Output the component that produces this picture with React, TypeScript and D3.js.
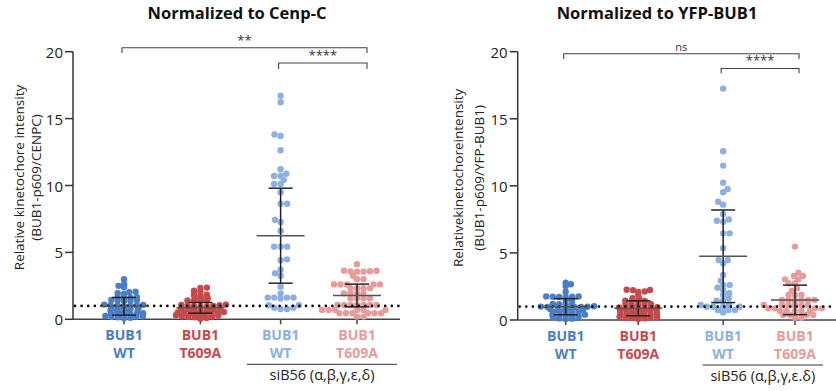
import React from 'react'
import * as d3 from 'd3'

// group labels
const groupLine1 = ['BUB1', 'BUB1', 'BUB1', 'BUB1']
const groupLine2 = ['WT', 'T609A', 'WT', 'T609A']
const groupColors = ['#4a7ec6', '#c8494b', '#8db0e2', '#e79b9b']
const yTicks = [0, 5, 10, 15, 20]

// Normalized to Cenp-C
const cenpWT = [2.99, 2.6, 2.5, 2.39, 2.06, 2.02, 1.95, 1.9, 1.66, 1.64, 1.62, 1.6, 1.45, 1.42, 1.4, 1.38, 1.36,
  1.1, 1.08, 1.05, 1.03, 1.02, 1.0, 0.98, 0.85, 0.82, 0.8, 0.78, 0.75, 0.65, 0.62, 0.6, 0.58, 0.55,
  0.45, 0.42, 0.4, 0.38, 0.36, 0.35, 0.25, 0.22, 0.2, 0.18, 0.15, 0.12, 0.08]
const cenpT609A = [2.37, 2.35, 2.14, 2.1, 1.84, 1.82, 1.8, 1.58, 1.57, 1.55, 1.4, 1.38, 1.37, 1.35,
  1.1, 1.08, 1.05, 1.02, 1.0, 0.98, 0.96, 0.95, 0.8, 0.78, 0.76, 0.75, 0.72, 0.7, 0.68,
  0.55, 0.52, 0.5, 0.48, 0.46, 0.44, 0.42, 0.4, 0.3, 0.28, 0.25, 0.22, 0.2, 0.18, 0.15, 0.1, 0.05]
const cenpSiWT = [16.71, 16.22, 13.82, 13.7, 12.63, 11.21, 10.88, 10.71, 10.71, 10.41, 10.11, 10.11, 9.49,
  8.64, 8.64, 7.44, 7.27, 6.6, 5.43, 5.43, 5.43, 4.48, 4.41, 3.71, 3.44, 3.26, 2.44, 1.94,
  1.62, 1.62, 1.55, 1.62, 1.62, 1.05, 1.05, 0.87, 0.87, 0.77, 0.77]
const cenpSiT609A = [4.11, 3.63, 3.63, 3.6, 3.58, 3.56, 3.56, 3.26, 2.99, 2.99, 2.61, 2.61, 2.61, 2.61, 2.61,
  2.32, 2.32, 2.32, 2.32, 1.94, 1.94, 1.94, 1.94, 1.57, 1.57, 1.57, 1.57,
  1.07, 1.07, 1.07, 1.07, 1.07, 1.07, 1.07, 0.7, 0.7, 0.7, 0.7, 0.7, 0.7,
  0.45, 0.45, 0.45, 0.45, 0.45, 0.45, 0.2, 0.2]
const cenpMean = [0.97, 0.86, 6.25, 1.78]
const cenpSD = [0.66, 0.4, 3.55, 0.85]

// Normalized to YFP-BUB1
const yfpWT = [2.78, 2.66, 2.54, 2.11, 1.76, 1.75, 1.74, 1.73, 1.72, 1.71, 1.49, 1.45, 1.2, 1.18, 1.17, 1.15,
  1.02, 1.0, 0.99, 0.98, 0.97, 0.96, 0.95, 0.94, 0.8, 0.78, 0.76, 0.74, 0.72, 0.62, 0.6, 0.58, 0.55, 0.52,
  0.4, 0.38, 0.36, 0.34, 0.32, 0.3, 0.18, 0.15, 0.12, 0.1, 0.08]
const yfpT609A = [2.26, 2.24, 2.22, 2.12, 2.1, 1.86, 1.63, 1.6, 1.43, 1.42, 1.41, 1.4, 1.2, 1.18, 1.15, 1.12, 1.1,
  0.95, 0.93, 0.9, 0.88, 0.86, 0.84, 0.82, 0.7, 0.68, 0.66, 0.64, 0.62, 0.6,
  0.5, 0.48, 0.46, 0.44, 0.42, 0.4, 0.38, 0.28, 0.25, 0.22, 0.2, 0.18, 0.15, 0.12, 0.08]
const yfpSiWT = [17.25, 12.58, 11.51, 10.24, 9.77, 9.52, 8.82, 8.6, 7.88, 7.5, 7.4, 7.33, 6.46, 6.46, 5.35,
  4.47, 4.47, 4.22, 3.36, 2.93, 2.61, 2.61, 2.41, 2.24, 1.99, 1.86, 1.62, 1.44, 1.44, 1.12, 1.12,
  0.99, 0.99, 0.99, 0.99, 0.75, 0.75, 0.75, 0.55]
const yfpSiT609A = [5.47, 3.53, 3.28, 3.28, 3.03, 3.03, 2.74, 2.74, 2.36, 2.16, 1.86, 1.86, 1.86,
  1.5, 1.5, 1.5, 1.48, 1.48, 1.46, 1.12, 1.12, 1.12, 1.1, 1.1, 1.1, 0.87, 0.87, 0.87, 0.87,
  0.67, 0.67, 0.67, 0.67, 0.67, 0.37, 0.37, 0.37, 0.37, 0.17, 0.17]
const yfpMean = [0.99, 0.87, 4.75, 1.5]
const yfpSD = [0.6, 0.56, 3.45, 1.1]

const FONT = '"Open Sans", "Noto Sans", sans-serif'
const R = 3.2
// vertical packing per group: dense control groups pack tighter
const packY = [2.7, 2.7, 4.6, 4.6]

// greedy beeswarm, elliptical collision so dense groups pack a bit
function swarm(values: number[], y: (v: number) => number, dx: number, dy: number) {
  const order = values.map((_, i) => i).sort((a, b) => values[a] - values[b])
  const placed: { x: number; y: number }[] = []
  const out: { x: number; y: number }[] = new Array(values.length)
  let left = 0, right = 0
  for (const i of order) {
    const py = y(values[i])
    const near = placed.filter(p => Math.abs(p.y - py) < dy)
    const cands = [0]
    near.forEach(p => {
      const t = (p.y - py) / dy
      const w = dx * Math.sqrt(Math.max(0, 1 - t * t))
      cands.push(p.x + w + 0.01, p.x - w - 0.01)
    })
    const ok = (c: number) => near.every(p => {
      const a = (c - p.x) / dx, b = (py - p.y) / dy
      return a * a + b * b >= 0.999
    })
    let best: number | null = null
    for (const c of cands) {
      if (!ok(c)) continue
      if (best === null) { best = c; continue }
      const d = Math.abs(c) - Math.abs(best)
      if (d < -0.05) best = c
      else if (Math.abs(d) <= 0.05 && ((c < 0 && left < right) || (c > 0 && right < left))) best = c
    }
    const bx = best ?? 0
    if (bx < -0.5) left++
    if (bx > 0.5) right++
    const pt = { x: bx, y: py }
    placed.push(pt)
    out[i] = pt
  }
  return out
}

interface Bracket { from: number; to: number; level: number; drop: number; label: string; size: number; shift: number }

interface PanelProps {
  title: string
  titleX: number
  axisX: number
  axisEnd: number
  yRange: [number, number]
  slots: number[]
  xRange: [number, number]
  groups: number[][]
  means: number[]
  sds: number[]
  yLabel: string[]
  yLabelX: number[]
  brackets: Bracket[]
  siLabel: string
  siLine: [number, number]
}

function Panel(p: PanelProps) {
  const y = d3.scaleLinear().domain([0, 20]).range(p.yRange)
  const x = d3.scaleLinear().domain([p.slots[0], p.slots[3]]).range(p.xRange)
  const cx = p.slots.map(s => x(s))
  const y0 = y(0)
  const midY = (y(0) + y(20)) / 2 - 8
  const siCenter = (p.siLine[0] + p.siLine[1]) / 2
  return (
    <g fontFamily={FONT}>
      <text x={p.titleX} y={19} textAnchor="middle" fontWeight="bold" fontSize={16.5} fill="#111">{p.title}</text>
      {/* y label */}
      {p.yLabel.map((t, i) => (
        <text key={t} transform={`translate(${p.yLabelX[i]},${midY}) rotate(-90)`} textAnchor="middle"
          dominantBaseline="central" fontSize={13.5} fill="#222">{t}</text>
      ))}
      {/* y axis */}
      <line x1={p.axisX} x2={p.axisX} y1={y(20)} y2={y0} stroke="#333" strokeWidth={1.5} />
      {yTicks.map(t => (
        <g key={t}>
          <line x1={p.axisX - 8} x2={p.axisX} y1={y(t)} y2={y(t)} stroke="#333" strokeWidth={1.5} />
          <text x={p.axisX - 10} y={y(t)} textAnchor="end" dominantBaseline="central" fontSize={15} fill="#222">{t}</text>
        </g>
      ))}
      {/* x axis */}
      <line x1={p.axisX} x2={p.axisEnd} y1={y0} y2={y0} stroke="#444" strokeWidth={1.5} />
      {cx.map((c, i) => (
        <g key={i}>
          <line x1={c} x2={c} y1={y0} y2={y0 + 5} stroke="#444" strokeWidth={1.5} />
          <text x={c} y={y0 + 21} textAnchor="middle" fontWeight="bold" fontSize={14} fill={groupColors[i]}>{groupLine1[i]}</text>
          <text x={c} y={y0 + 39} textAnchor="middle" fontWeight="bold" fontSize={14} fill={groupColors[i]}>{groupLine2[i]}</text>
        </g>
      ))}
      {/* dots */}
      {p.groups.map((vals, gi) => swarm(vals, y, 6.5, packY[gi]).map((pt, k) => (
        <circle key={`${gi}-${k}`} cx={cx[gi] + pt.x} cy={pt.y} r={R} fill={groupColors[gi]} />
      )))}
      {/* reference line at 1 */}
      <line x1={p.axisX + 2} x2={p.axisEnd} y1={y(1)} y2={y(1)} stroke="#000" strokeWidth={2.6}
        strokeDasharray="0 6.6" strokeLinecap="round" />
      {/* mean +/- SD */}
      {p.means.map((m, i) => (
        <g key={i} stroke="#222" strokeWidth={1.5}>
          <line x1={cx[i]} x2={cx[i]} y1={y(m - p.sds[i])} y2={y(m + p.sds[i])} />
          <line x1={cx[i] - 12} x2={cx[i] + 12} y1={y(m + p.sds[i])} y2={y(m + p.sds[i])} />
          <line x1={cx[i] - 12} x2={cx[i] + 12} y1={y(m - p.sds[i])} y2={y(m - p.sds[i])} />
          <line x1={cx[i] - 24} x2={cx[i] + 24} y1={y(m)} y2={y(m)} stroke="#555" />
        </g>
      ))}
      {/* significance */}
      {p.brackets.map((b, i) => {
        const x1 = cx[b.from] - 2
        const x2 = cx[b.to] + b.shift
        const by = y(b.level)
        const bd = y(b.level - b.drop)
        return (
          <g key={i}>
            <path d={`M${x1},${bd}V${by}H${x2}V${bd}`} fill="none" stroke="#444" strokeWidth={1.1} />
            <text x={(x1 + x2) / 2} y={by - 3} textAnchor="middle" fontSize={b.size} fill="#333">{b.label}</text>
          </g>
        )
      })}
      {/* siB56 group */}
      <line x1={p.siLine[0]} x2={p.siLine[1]} y1={y0 + 45} y2={y0 + 45} stroke="#333" strokeWidth={1} />
      <text x={siCenter} y={y0 + 61} textAnchor="middle" fontSize={14.5} fill="#222">{p.siLabel}</text>
    </g>
  )
}

export default function App() {
  return (
    <svg width={836} height={391} viewBox="0 0 836 391"
      style={{ position: 'absolute', left: 0, top: 0, background: '#fff' }}>
      <rect width={836} height={391} fill="#fff" />
      <Panel
        title="Normalized to Cenp-C" titleX={237}
        axisX={73} axisEnd={400} yRange={[319.3, 51.7]}
        slots={[0, 1, 2.05, 3.05]} xRange={[124, 357]}
        groups={[cenpWT, cenpT609A, cenpSiWT, cenpSiT609A]}
        means={cenpMean} sds={cenpSD}
        yLabel={['Relative kinetochore intensity', '(BUB1-p609/CENPC)']} yLabelX={[19, 36]}
        brackets={[
          { from: 0, to: 3, level: 20.3, drop: 0.4, label: '**', size: 13, shift: 10 },
          { from: 2, to: 3, level: 19.15, drop: 0.45, label: '****', size: 13, shift: 10 },
        ]}
        siLabel="siB56 (α,β,γ,ε,δ)" siLine={[247, 397]}
      />
      <Panel
        title="Normalized to YFP-BUB1" titleX={657}
        axisX={517.7} axisEnd={836} yRange={[320, 51.7]}
        slots={[0, 1, 2.17, 3.16]} xRange={[565.7, 795]}
        groups={[yfpWT, yfpT609A, yfpSiWT, yfpSiT609A]}
        means={yfpMean} sds={yfpSD}
        yLabel={['Relativekinetochoreintensity', '(BUB1-p609/YFP-BUB1)']} yLabelX={[458, 479]}
        brackets={[
          { from: 0, to: 3, level: 19.85, drop: 0.4, label: 'ns', size: 11, shift: 4 },
          { from: 2, to: 3, level: 18.75, drop: 0.35, label: '****', size: 13, shift: 4 },
        ]}
        siLabel="siB56 (α,β,γ,ε.δ)" siLine={[702.7, 823]}
      />
    </svg>
  )
}
